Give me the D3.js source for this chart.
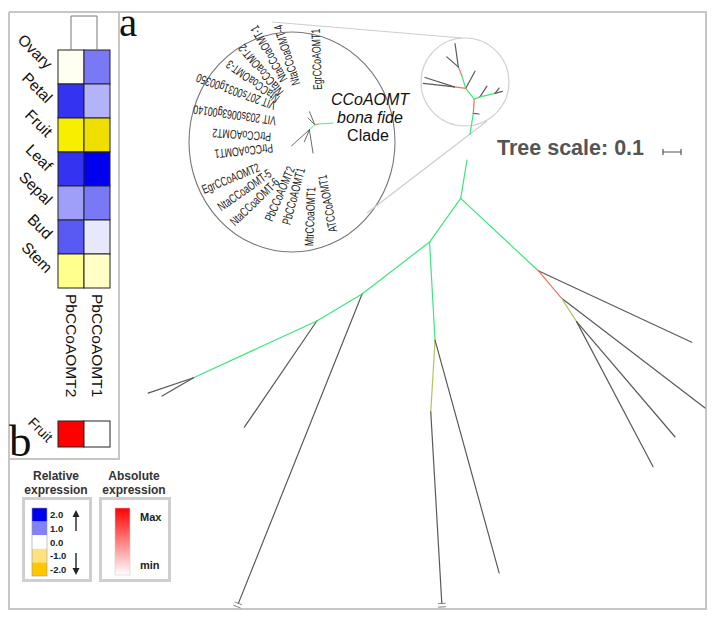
<!DOCTYPE html>
<html><head><meta charset="utf-8">
<script src="https://cdn.jsdelivr.net/npm/d3@7"></script>
<style>body{margin:0;background:#fff}svg{display:block}</style>
</head><body>
<svg id="c" width="715" height="620"></svg>
<script>
// ---------------- DATA ----------------
const tissues = ["Ovary","Petal","Fruit","Leaf","Sepal","Bud","Stem"];
const genes = ["PbCCoAOMT2","PbCCoAOMT1"];
const relExprPbCCoAOMT2 = [-0.1, 1.6, -2.0, 1.6, 0.75, 1.3, -0.8];
const relExprPbCCoAOMT1 = [1.05, 0.6, -2.2, 2.0, 1.05, 0.18, -0.4];
const absTissues = ["Fruit"];
const absExprPbCCoAOMT2 = [1.0];
const absExprPbCCoAOMT1 = [0.0];
const relLegendValues = [2, 1, 0, -1, -2];
const relLegendLabels = ["2.0","1.0","0.0","-1.0","-2.0"];
const relLegendColors = ["#0000ee","#8282f6","#ffffff","#ffe27c","#ffc700"];
const absLegendLabels = ["Max","min"];
const treeScaleValue = 0.1;

// tree edges: [node, parent, branch length (tree units), branch angle (deg), branch class]
const treeEdges = [
  ["S1","S0",0.118,-81.1,"pos"],
  ["s1a","S1",0.032,7,"none"],
  ["S2","S1",0.079,-86,"neg"],
  ["S4","S2",0.034,-22,"pos"],
  ["s4a","S4",0.071,-56.8,"none"],
  ["S3","S4",0.086,-12.8,"pos"],
  ["s3a","S3",0.042,-15,"none"],
  ["s3b","S3",0.037,-53,"none"],
  ["S5","S2",0.076,-128.8,"pos"],
  ["s5a","S5",0.109,-61.7,"none"],
  ["S6","S5",0.064,-172,"neg"],
  ["s6a","S6",0.171,-162.2,"none"],
  ["s6b","S6",0.173,-173.7,"none"],
  ["S7","S5",0.077,-106.7,"pos"],
  ["S8","S7",0.050,-112.3,"neg"],
  ["s8a","S8",0.131,-98,"none"],
  ["s8b","S8",0.085,-139.2,"none"],
  ["R0","S0",0.144,96.7,"gap"],
  ["A","R0",0.216,99.3,"pos"],
  ["B","A",0.589,43.0,"pos"],
  ["L1","B",0.941,25.0,"none"],
  ["D","B",0.201,49.7,"neg"],
  ["L2","D",1.003,37.4,"none"],
  ["E","D",0.154,57.3,"mix"],
  ["L3","E",0.911,62.2,"none"],
  ["L4","E",0.841,49.5,"none"],
  ["C","A",0.298,125.5,"pos"],
  ["F","C",0.546,86.8,"pos"],
  ["G","F",0.399,93.4,"mix"],
  ["Lm","G",1.066,86.7,"none"],
  ["Lf","F",1.341,74.6,"none"],
  ["H","C",0.473,142.4,"pos"],
  ["Lh","H",1.851,111.8,"none"],
  ["I","H",0.293,149.2,"pos"],
  ["Li","I",0.714,124.3,"none"],
  ["J","I",0.754,155.3,"pos"],
  ["Lj1","J",0.266,161.3,"none"],
  ["Lj2","J",0.202,149.7,"none"]
];
const truncatedLeaves = ["Lm","Lh"];
const lensTreeEdges = [
  ["T1","T0",0.083,176,"pos"],
  ["T2","T1",0.019,168,"neg"],
  ["t2a","T2",0.052,-134.6,"none"],
  ["t2b","T2",0.078,-112,"none"],
  ["T3","T2",0.041,137,"pos"],
  ["t3a","T3",0.133,138,"none"],
  ["t3b","T3",0.131,81,"none"],
  ["t3c","T3",0.072,112.6,"none"]
];
const cladeLabels = ["EgrCCoAOMT1","NtaCCoaOMT-4","NtaCCoaOMT-1","NtaCCoaOMT-2","NtaCCoaOMT-3",
  "VIT 207s0031g00350","VIT 203s0063g00140","PtrCCoAOMT2","PtrCCoAOMT1","EgrCCoAOMT2",
  "NtaCCoaOMT-5","NtaCCoaOMT-6","PbCCoAOMT2","PbCCoAOMT1","MtrCCoaOMT1","ATCCoAOMT1"];
const cladeLabelPosAngle = [-83.2,-111.6,-121.7,-133.3,-141.3,-150,-169.3,167.9,153.4,144.2,134.3,124.7,119.4,106.7,92,79.2];
const cladeLabelRadius = [38.3,46.2,55.2,46.7,44.8,43.9,37.7,43,44.7,66.6,61.5,63.2,44.8,41.8,59,47.9];
const cladeLabelAngle = [-92,-107,-119,-130,-144,-160,-172,-176,174,158,145,136,113,105,92,79];
const cladeTitle = ["CCoAOMT","bona fide","Clade"];

// ---------------- DRAW ----------------
const svg = d3.select("#c");
const SANS = "'Liberation Sans', Arial, Helvetica, sans-serif";
const SERIF = "'Liberation Serif', 'Times New Roman', serif";

// frame
svg.append("path").attr("d","M9,12H707M9,12V609H706V12M119,12V459H9")
  .attr("fill","none").attr("stroke","#c6c6c6").attr("stroke-width",2);

// ---- heatmap (a) ----
const xb = d3.scaleBand().domain(genes).range([58,110]);
const yb = d3.scaleBand().domain(tissues).range([50,288]);
const relColor = d3.scaleLinear().domain([-2.2,-1.8,0,2]).range(["#efdf00","#ffff00","#ffffff","#0000ee"]).clamp(true);
const cells = [];
tissues.forEach((t,i)=>{ cells.push({t, g:genes[0], v:relExprPbCCoAOMT2[i]}); cells.push({t, g:genes[1], v:relExprPbCCoAOMT1[i]}); });
svg.append("g").selectAll("rect").data(cells).join("rect")
  .attr("x",d=>xb(d.g)).attr("y",d=>yb(d.t)).attr("width",xb.bandwidth()).attr("height",yb.bandwidth())
  .attr("fill",d=>relColor(d.v)).attr("stroke","#222").attr("stroke-width",1);
// dendrogram
const cx1 = xb(genes[0])+xb.bandwidth()/2, cx2 = xb(genes[1])+xb.bandwidth()/2;
svg.append("path").attr("d",`M${cx1},${yb.range()[0]}V16H${cx2}V${yb.range()[0]}`)
  .attr("fill","none").attr("stroke","#777").attr("stroke-width",1);
// row labels
svg.append("g").selectAll("text").data(tissues).join("text")
  .attr("transform",d=>`translate(46,${yb(d)+20}) rotate(45)`)
  .attr("text-anchor","end").attr("font-family",SANS).attr("font-size",15.5).attr("fill","#111").text(d=>d);
// column labels
svg.append("g").selectAll("text").data(genes).join("text")
  .attr("transform",d=>`translate(${xb(d)+xb.bandwidth()/2-5},294) rotate(90)`)
  .attr("font-family",SANS).attr("font-size",15.5).attr("fill","#111").text(d=>d);

// ---- panel b ----
const yAbs = d3.scaleBand().domain(absTissues).range([421,447]);
const absColor = d3.scaleLinear().domain([0,1]).range(["#ffffff","#ff0000"]);
const absCells = [];
absTissues.forEach((t,i)=>{ absCells.push({t,g:genes[0],v:absExprPbCCoAOMT2[i]}); absCells.push({t,g:genes[1],v:absExprPbCCoAOMT1[i]}); });
svg.append("g").selectAll("rect").data(absCells).join("rect")
  .attr("x",d=>xb(d.g)).attr("y",d=>yAbs(d.t)).attr("width",xb.bandwidth()).attr("height",yAbs.bandwidth())
  .attr("fill",d=>absColor(d.v)).attr("stroke","#222").attr("stroke-width",1);
svg.append("g").selectAll("text").data(absTissues).join("text")
  .attr("transform",d=>`translate(47,${yAbs(d)+22}) rotate(45)`)
  .attr("text-anchor","end").attr("font-family",SANS).attr("font-size",14).attr("fill","#111").text(d=>d);

svg.append("text").attr("x",119).attr("y",36).attr("font-family",SERIF).attr("font-size",41).attr("fill","#111").text("a");
svg.append("text").attr("x",9).attr("y",456).attr("font-family",SERIF).attr("font-size",45).attr("fill","#111").text("b");

// ---- legends ----
const lg = svg.append("g").attr("font-family",SANS).attr("font-weight","bold").attr("fill","#333");
lg.append("text").attr("x",56).attr("y",480).attr("text-anchor","middle").attr("font-size",12).text("Relative");
lg.append("text").attr("x",56).attr("y",494).attr("text-anchor","middle").attr("font-size",12).text("expression");
lg.append("text").attr("x",134).attr("y",480).attr("text-anchor","middle").attr("font-size",12).text("Absolute");
lg.append("text").attr("x",134).attr("y",494).attr("text-anchor","middle").attr("font-size",12).text("expression");
svg.append("rect").attr("x",23.5).attr("y",498.5).attr("width",67).attr("height",82).attr("fill","none").attr("stroke","#cfcfcf").attr("stroke-width",3);
svg.append("rect").attr("x",100.5).attr("y",498.5).attr("width",69).attr("height",82).attr("fill","none").attr("stroke","#cfcfcf").attr("stroke-width",3);
const yLeg = d3.scaleBand().domain(relLegendValues).range([508,576]);
svg.append("g").selectAll("rect").data(relLegendValues).join("rect")
  .attr("x",32).attr("y",d=>yLeg(d)).attr("width",15).attr("height",yLeg.bandwidth())
  .attr("fill",(d,i)=>relLegendColors[i]);
svg.append("rect").attr("x",32).attr("y",508).attr("width",15).attr("height",68).attr("fill","none").attr("stroke","#999").attr("stroke-width",0.6);
svg.append("g").selectAll("text").data(relLegendValues).join("text")
  .attr("x",50).attr("y",d=>yLeg(d)+yLeg.bandwidth()/2+3.5)
  .attr("font-family",SANS).attr("font-weight","bold").attr("font-size",9.5).attr("fill","#222")
  .text((d,i)=>relLegendLabels[i]);
// arrows
const ar = svg.append("g").attr("stroke","#222").attr("stroke-width",1.4).attr("fill","#222");
ar.append("line").attr("x1",76).attr("x2",76).attr("y1",531).attr("y2",514);
ar.append("path").attr("d","M76,510L72.5,517H79.5Z").attr("stroke","none");
ar.append("line").attr("x1",76).attr("x2",76).attr("y1",553).attr("y2",570);
ar.append("path").attr("d","M76,575L72.5,568H79.5Z").attr("stroke","none");
// absolute gradient
const defs = svg.append("defs");
const grad = defs.append("linearGradient").attr("id","absg").attr("x1",0).attr("x2",0).attr("y1",0).attr("y2",1);
grad.append("stop").attr("offset","0%").attr("stop-color",absColor(1));
grad.append("stop").attr("offset","100%").attr("stop-color",absColor(0));
svg.append("rect").attr("x",115).attr("y",508).attr("width",15).attr("height",67).attr("fill","url(#absg)").attr("stroke","#ccc").attr("stroke-width",0.6);
lg.append("text").attr("x",140).attr("y",521).attr("font-size",11).attr("fill","#222").text(absLegendLabels[0]);
lg.append("text").attr("x",140).attr("y",569).attr("font-size",11).attr("fill","#222").text(absLegendLabels[1]);

// ---- tree ----
const lenScale = d3.scaleLinear().domain([0,treeScaleValue]).range([0,18]);
const branchColors = {pos:"#3ee47e", neg:"#ef735c", mix:"#b2c45e", none:"#5a5a5a"};
function layout(edges, rootId, rx, ry){
  const pos = {}; pos[rootId] = [rx, ry];
  const segs = [];
  edges.forEach(([id,par,len,ang,cls])=>{
    const p = pos[par], L = lenScale(len), a = ang*Math.PI/180;
    pos[id] = [p[0]+L*Math.cos(a), p[1]+L*Math.sin(a)];
    segs.push({id, x1:p[0], y1:p[1], x2:pos[id][0], y2:pos[id][1], cls, a});
  });
  return segs;
}

// lens decorations
const lensO = [313,128];
svg.append("ellipse").attr("cx",292).attr("cy",142).attr("rx",103).attr("ry",110)
  .attr("fill","none").attr("stroke","#777").attr("stroke-width",1.1);
svg.append("circle").attr("cx",465).attr("cy",82).attr("r",44)
  .attr("fill","none").attr("stroke","#d0d0d0").attr("stroke-width",1.1);
svg.append("path").attr("d","M272,22L462,38M367,213L487,121")
  .attr("fill","none").attr("stroke","#cdcdcd").attr("stroke-width",1.1);

const mainSegs = layout(treeEdges, "S0", 470, 134.3).filter(s=>s.cls!=="gap");
const tg = svg.append("g").attr("stroke-linecap","round");
tg.selectAll("line.b").data(mainSegs).join("line").attr("class","b")
  .attr("x1",d=>d.x1).attr("y1",d=>d.y1).attr("x2",d=>d.x2).attr("y2",d=>d.y2)
  .attr("stroke",d=>branchColors[d.cls]).attr("stroke-width",1.2);
// truncation marks
mainSegs.filter(s=>truncatedLeaves.includes(s.id)).forEach(s=>{
  const ux=Math.cos(s.a), uy=Math.sin(s.a), px=-uy, py=ux;
  [0,3.5].forEach(o=>{
    const mx=s.x2+ux*o, my=s.y2+uy*o;
    tg.append("line").attr("x1",mx-px*3.5).attr("y1",my-py*3.5).attr("x2",mx+px*3.5).attr("y2",my+py*3.5)
      .attr("stroke","#777").attr("stroke-width",0.9);
  });
});
const lensSegs = layout(lensTreeEdges, "T0", 333, 123);
tg.selectAll("line.l").data(lensSegs).join("line").attr("class","l")
  .attr("x1",d=>d.x1).attr("y1",d=>d.y1).attr("x2",d=>d.x2).attr("y2",d=>d.y2)
  .attr("stroke",d=>branchColors[d.cls]).attr("stroke-width",0.9);

// clade labels
const cl = svg.append("g").attr("font-family",SANS).attr("font-size",12.5).attr("fill","#222");
cladeLabels.forEach((name,i)=>{
  const phi = cladeLabelPosAngle[i]*Math.PI/180, r = cladeLabelRadius[i];
  const x = lensO[0]+r*Math.cos(phi), y = lensO[1]+r*Math.sin(phi);
  const a = cladeLabelAngle[i];
  const flip = a > -15 && a < 165;
  cl.append("text").attr("transform",`translate(${x},${y}) rotate(${flip?a-180:a}) scale(0.70,1)`)
    .attr("text-anchor",flip?"end":"start").attr("dy","0.35em").text(name);
});
const ct = svg.append("g").attr("font-family",SANS).attr("font-size",16).attr("fill","#111").attr("text-anchor","middle");
ct.append("text").attr("x",370).attr("y",105).attr("font-style","italic").text(cladeTitle[0]);
ct.append("text").attr("x",370).attr("y",123).attr("font-style","italic").text(cladeTitle[1]);
ct.append("text").attr("x",368).attr("y",141).text(cladeTitle[2]);

// tree scale
svg.append("text").attr("x",497).attr("y",155).attr("font-family",SANS).attr("font-weight","bold")
  .attr("font-size",21.5).attr("fill","#555").text(`Tree scale: ${treeScaleValue}`);
const sx0 = 663, sx1 = sx0 + lenScale(treeScaleValue);
svg.append("path").attr("d",`M${sx0},152H${sx1}M${sx0},149V155M${sx1},149V155`)
  .attr("fill","none").attr("stroke","#555").attr("stroke-width",1.2);
</script>
</body></html>
